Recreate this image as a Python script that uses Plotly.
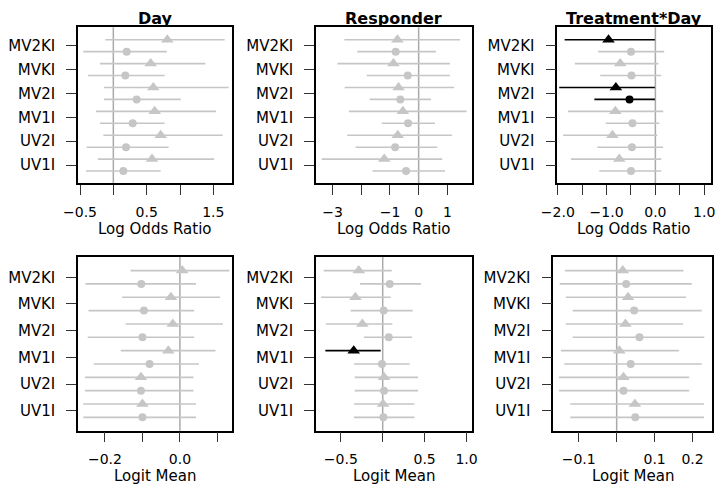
import plotly.graph_objects as go

# page shows the figure with an 8px body margin; design in page pixels
OFF = 8
W, H = 716, 486

# categories, top to bottom
categories = ["MV2KI", "MVKI", "MV2I", "MV1I", "UV2I", "UV1I"]

# ---- Panel 1: Day (Log Odds Ratio)
day_tri_est = [0.81, 0.56, 0.60, 0.62, 0.71, 0.58]
day_tri_lo = [-0.12, -0.20, -0.14, -0.26, -0.15, -0.23]
day_tri_hi = [1.67, 1.38, 1.73, 1.54, 1.64, 1.51]
day_cir_est = [0.20, 0.18, 0.35, 0.29, 0.19, 0.15]
day_cir_lo = [-0.45, -0.38, -0.14, -0.20, -0.40, -0.41]
day_cir_hi = [0.80, 0.77, 1.01, 0.77, 0.83, 0.71]

# ---- Panel 2: Responder (Log Odds Ratio)
resp_tri_est = [-0.74, -0.88, -0.70, -0.55, -0.73, -1.20]
resp_tri_lo = [-2.59, -2.83, -2.58, -2.43, -2.49, -3.38]
resp_tri_hi = [1.44, 1.09, 1.24, 1.67, 1.16, 0.82]
resp_cir_est = [-0.80, -0.38, -0.64, -0.37, -0.82, -0.44]
resp_cir_lo = [-2.14, -1.81, -1.71, -1.29, -2.20, -1.61]
resp_cir_hi = [0.60, 1.09, 0.43, 0.57, 0.65, 0.92]

# ---- Panel 3: Treatment*Day (Log Odds Ratio)
td_tri_est = [-0.96, -0.72, -0.81, -0.82, -0.88, -0.74]
td_tri_lo = [-1.86, -1.65, -1.97, -1.79, -1.89, -1.73]
td_tri_hi = [-0.01, 0.06, -0.01, 0.16, 0.04, 0.12]
td_cir_est = [-0.50, -0.49, -0.53, -0.47, -0.48, -0.50]
td_cir_lo = [-1.17, -1.13, -1.25, -1.02, -1.19, -1.15]
td_cir_hi = [0.18, 0.12, -0.01, 0.08, 0.16, 0.12]

# ---- Panel 4: Day (Logit Mean)
dlm_tri_est = [0.006, -0.024, -0.019, -0.031, -0.104, -0.100]
dlm_tri_lo = [-0.132, -0.154, -0.145, -0.158, -0.253, -0.258]
dlm_tri_hi = [0.132, 0.107, 0.115, 0.095, 0.036, 0.043]
dlm_cir_est = [-0.103, -0.096, -0.100, -0.081, -0.104, -0.100]
dlm_cir_lo = [-0.252, -0.244, -0.246, -0.230, -0.253, -0.258]
dlm_cir_hi = [0.043, 0.038, 0.038, 0.051, 0.036, 0.043]

# ---- Panel 5: Responder (Logit Mean)
rlm_tri_est = [-0.286, -0.326, -0.243, -0.346, 0.016, 0.004]
rlm_tri_lo = [-0.704, -0.736, -0.676, -0.684, -0.334, -0.342]
rlm_tri_hi = [0.107, 0.095, 0.115, -0.024, 0.422, 0.378]
rlm_cir_est = [0.084, 0.012, 0.072, -0.008, 0.016, 0.008]
rlm_cir_lo = [-0.270, -0.382, -0.223, -0.342, -0.334, -0.342]
rlm_cir_hi = [0.457, 0.358, 0.350, 0.322, 0.422, 0.378]

# ---- Panel 6: Treatment*Day (Logit Mean)
tlm_tri_est = [0.016, 0.030, 0.023, 0.007, 0.018, 0.048]
tlm_tri_lo = [-0.136, -0.134, -0.134, -0.147, -0.152, -0.122]
tlm_tri_hi = [0.176, 0.183, 0.175, 0.164, 0.191, 0.230]
tlm_cir_est = [0.025, 0.046, 0.060, 0.037, 0.018, 0.049]
tlm_cir_lo = [-0.150, -0.116, -0.116, -0.138, -0.152, -0.122]
tlm_cir_hi = [0.198, 0.224, 0.231, 0.224, 0.191, 0.230]

titles = ["Day", "Responder", "Treatment*Day"]
xlabels = ["Log Odds Ratio", "Logit Mean"]

panels = [
    dict(tri=(day_tri_est, day_tri_lo, day_tri_hi), cir=(day_cir_est, day_cir_lo, day_cir_hi),
         rng=[-0.53, 1.78], ticks=[-0.5, 0, 0.5, 1, 1.5], text=["\u22120.5", "", "0.5", "", "1.5"],
         box=(78, 232, 27.3, 183)),
    dict(tri=(resp_tri_est, resp_tri_lo, resp_tri_hi), cir=(resp_cir_est, resp_cir_lo, resp_cir_hi),
         rng=[-3.58, 1.85], ticks=[-3, -2, -1, 0, 1], text=["\u22123", "", "\u22121", "0", "1"],
         box=(316, 471.7, 27.3, 183)),
    dict(tri=(td_tri_est, td_tri_lo, td_tri_hi), cir=(td_cir_est, td_cir_lo, td_cir_hi),
         rng=[-2.01, 1.14], ticks=[-2, -1.5, -1, -0.5, 0, 0.5, 1],
         text=["\u22122.0", "", "\u22121.0", "", "0.0", "", "1.0"],
         box=(557.3, 711, 27.3, 183)),
    dict(tri=(dlm_tri_est, dlm_tri_lo, dlm_tri_hi), cir=(dlm_cir_est, dlm_cir_lo, dlm_cir_hi),
         rng=[-0.272, 0.139], ticks=[-0.2, -0.1, 0, 0.1], text=["\u22120.2", "", "0.0", ""],
         box=(78, 232, 256.7, 430.7)),
    dict(tri=(rlm_tri_est, rlm_tri_lo, rlm_tri_hi), cir=(rlm_cir_est, rlm_cir_lo, rlm_cir_hi),
         rng=[-0.796, 1.062], ticks=[-0.5, 0, 0.5, 1], text=["\u22120.5", "", "0.5", "1.0"],
         box=(316, 471.7, 256.7, 430.7)),
    dict(tri=(tlm_tri_est, tlm_tri_lo, tlm_tri_hi), cir=(tlm_cir_est, tlm_cir_lo, tlm_cir_hi),
         rng=[-0.167, 0.252], ticks=[-0.1, 0, 0.1, 0.2], text=["\u22120.1", "", "0.1", "0.2"],
         box=(553.3, 712.3, 256.7, 430.7)),
]


def px(x):
    return (x - OFF) / W


def py(y):
    return 1 - (y - OFF) / H


GREY = "#c6c6c6"
FONT = "DejaVu Sans, Verdana, sans-serif"
ncat = len(categories)
ypos = [ncat - i for i in range(ncat)]

fig = go.Figure()
layout = dict(
    width=W, height=H, margin=dict(l=0, r=0, t=0, b=0, autoexpand=False),
    paper_bgcolor="white", plot_bgcolor="white",
    showlegend=False, font=dict(family=FONT, size=15, color="black"),
    shapes=[], annotations=[],
)

for i, p in enumerate(panels):
    k = i + 1
    xa = "x" if k == 1 else f"x{k}"
    ya = "y" if k == 1 else f"y{k}"
    x0, x1, y0, y1 = p["box"]
    for key, sym, size, off in (("tri", "triangle-up", 11, 0.25), ("cir", "circle", 8, -0.25)):
        est, lo, hi = p[key]
        for sig in (False, True):
            idx = [j for j in range(ncat) if ((hi[j] < 0) or (lo[j] > 0)) == sig]
            if not idx:
                continue
            col = "black" if sig else GREY
            fig.add_trace(go.Scatter(
                x=[est[j] for j in idx], y=[ypos[j] + off for j in idx],
                mode="markers", xaxis=xa, yaxis=ya,
                marker=dict(symbol=sym, size=size, color=col, line=dict(width=0)),
                error_x=dict(type="data", symmetric=False,
                             array=[hi[j] - est[j] for j in idx],
                             arrayminus=[est[j] - lo[j] for j in idx],
                             width=0, thickness=1.6, color=col),
                hoverinfo="skip",
            ))
    axname = "xaxis" if k == 1 else f"xaxis{k}"
    ayname = "yaxis" if k == 1 else f"yaxis{k}"
    layout[axname] = dict(
        domain=[px(x0), px(x1)], range=p["rng"], anchor=ya, automargin=False,
        tickvals=p["ticks"], ticktext=p["text"], ticks="outside", ticklen=10,
        tickwidth=1.2, tickcolor="#333", showgrid=False, zeroline=False,
        showline=True, mirror=True, linecolor="black", linewidth=1.5,
        ticklabelstandoff=5, tickfont=dict(size=14), fixedrange=True,
    )
    layout[ayname] = dict(
        domain=[py(y1), py(y0)], range=[0.25, 6.77], anchor=xa, automargin=False,
        tickvals=ypos, ticktext=categories, ticks="outside", ticklen=10,
        tickwidth=1.2, tickcolor="#333", showgrid=False, zeroline=False,
        showline=True, mirror=True, linecolor="black", linewidth=1.5,
        ticklabelstandoff=8, tickfont=dict(size=15), fixedrange=True,
    )
    layout["shapes"].append(dict(
        type="line", xref=xa, yref=f"{ya} domain", x0=0, x1=0, y0=0, y1=1,
        line=dict(color="#aaaaaa", width=1.5), layer="below",
    ))
    cx = px((x0 + x1) / 2)
    row = i // 3
    if row == 0:
        layout["annotations"].append(dict(
            text=f"<b>{titles[i]}</b>", x=cx, y=1.0, xref="paper", yref="paper",
            xanchor="center", yanchor="top", showarrow=False, borderpad=0,
            font=dict(size=16, family=FONT, color="black"),
        ))
        ty = 229.5
    else:
        ty = 476
    layout["annotations"].append(dict(
        text=xlabels[row], x=cx, y=py(ty), xref="paper", yref="paper",
        xanchor="center", yanchor="middle", showarrow=False,
        font=dict(size=15, family=FONT, color="black"),
    ))

fig.update_layout(**layout)
fig.write_html("out.html")
